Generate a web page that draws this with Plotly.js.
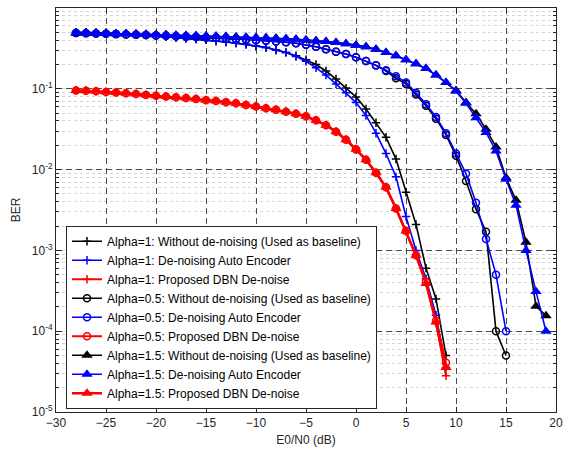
<!DOCTYPE html>
<html>
<head>
<meta charset="utf-8">
<script src="https://cdn.plot.ly/plotly-3.0.1.min.js"></script>
<style>html,body{margin:0;padding:0;background:#fff;}#chart{width:572px;height:453px;}</style>
</head>
<body>
<div id="chart"></div>
<script>
// E0/N0 (dB) sample points
const xA1 = [-28,-27,-26,-25,-24,-23,-22,-21,-20,-19,-18,-17,-16,-15,-14,-13,-12,-11,-10,-9,-8,-7,-6,-5,-4,-3,-2,-1,0,1,2,3,4,5,6,7,8,9];
const xA05 = [-28,-27,-26,-25,-24,-23,-22,-21,-20,-19,-18,-17,-16,-15,-14,-13,-12,-11,-10,-9,-8,-7,-6,-5,-4,-3,-2,-1,0,1,2,3,4,5,6,7,8,9,10,11,12,13,14,15];
const xA15 = [-28,-27,-26,-25,-24,-23,-22,-21,-20,-19,-18,-17,-16,-15,-14,-13,-12,-11,-10,-9,-8,-7,-6,-5,-4,-3,-2,-1,0,1,2,3,4,5,6,7,8,9,10,11,12,13,14,15,16,17,18,19];

// Alpha = 1
const berA1Base = [0.501,0.501,0.495,0.490,0.484,0.479,0.468,0.462,0.452,0.442,0.432,0.422,0.412,0.403,0.389,0.380,0.367,0.355,0.339,0.324,0.302,0.282,0.257,0.229,0.200,0.166,0.132,0.102,0.0794,0.0562,0.0380,0.0251,0.0135,0.00525,0.00209,6.03e-4,2.51e-4,5.0e-5];
const berA1DAE = [0.501,0.501,0.495,0.490,0.484,0.479,0.468,0.462,0.452,0.442,0.432,0.422,0.412,0.403,0.389,0.380,0.367,0.355,0.339,0.324,0.302,0.282,0.251,0.219,0.182,0.148,0.115,0.0891,0.0676,0.0468,0.0282,0.0158,0.00813,0.00263,0.0010,4.47e-4,1.58e-4,3.55e-5];
const berA1DBN = [0.0955,0.0944,0.0933,0.0912,0.0902,0.0881,0.0861,0.0841,0.0822,0.0804,0.0785,0.0767,0.0750,0.0724,0.0708,0.0684,0.0661,0.0631,0.0603,0.0575,0.0550,0.0519,0.0490,0.0457,0.0407,0.0355,0.0295,0.0234,0.0178,0.0132,0.00912,0.00603,0.00331,0.00174,8.71e-4,3.98e-4,1.26e-4,2.8e-5];

// Alpha = 0.5
const berA05Base = [0.490,0.488,0.484,0.479,0.475,0.471,0.468,0.462,0.457,0.452,0.447,0.442,0.437,0.432,0.427,0.422,0.414,0.407,0.400,0.394,0.385,0.376,0.367,0.351,0.331,0.309,0.288,0.269,0.245,0.221,0.195,0.166,0.135,0.115,0.0851,0.0617,0.0427,0.0269,0.0148,0.00724,0.00324,0.00170,1.0e-4,5.0e-5];
const berA05DAE = [0.490,0.488,0.484,0.479,0.475,0.471,0.468,0.462,0.457,0.452,0.447,0.442,0.437,0.432,0.427,0.422,0.414,0.407,0.400,0.394,0.385,0.376,0.367,0.351,0.331,0.309,0.288,0.269,0.245,0.221,0.195,0.170,0.143,0.120,0.0891,0.0646,0.0447,0.0282,0.0158,0.00891,0.00389,0.00138,5.01e-4,1.0e-4];
const berA05DBN = [0.0955,0.0944,0.0933,0.0912,0.0902,0.0881,0.0861,0.0841,0.0822,0.0804,0.0785,0.0767,0.0750,0.0724,0.0708,0.0684,0.0661,0.0631,0.0603,0.0575,0.0550,0.0519,0.0490,0.0457,0.0407,0.0355,0.0295,0.0234,0.0178,0.0132,0.00912,0.00603,0.00331,0.00174,8.71e-4,4.1e-4,1.35e-4,4.07e-5];

// Alpha = 1.5
const berA15Base = [0.490,0.489,0.486,0.484,0.481,0.479,0.475,0.472,0.468,0.465,0.461,0.457,0.454,0.450,0.447,0.443,0.439,0.435,0.431,0.427,0.422,0.417,0.409,0.403,0.394,0.385,0.373,0.361,0.347,0.331,0.309,0.282,0.257,0.229,0.204,0.178,0.148,0.120,0.0955,0.0676,0.0490,0.0316,0.0191,0.00794,0.00417,0.00126,2.04e-4,1.55e-4];
const berA15DAE = [0.490,0.489,0.486,0.484,0.481,0.479,0.475,0.472,0.468,0.465,0.461,0.457,0.454,0.450,0.447,0.443,0.439,0.435,0.431,0.427,0.422,0.417,0.409,0.403,0.394,0.385,0.373,0.361,0.347,0.331,0.309,0.282,0.257,0.229,0.204,0.178,0.148,0.120,0.0933,0.0661,0.0437,0.0288,0.0170,0.00759,0.00363,0.0010,3.09e-4,1.0e-4];
const berA15DBN = [0.0955,0.0944,0.0933,0.0912,0.0902,0.0881,0.0861,0.0841,0.0822,0.0804,0.0785,0.0767,0.0750,0.0724,0.0708,0.0684,0.0661,0.0631,0.0603,0.0575,0.0550,0.0519,0.0490,0.0457,0.0407,0.0355,0.0295,0.0234,0.0178,0.0132,0.00912,0.00603,0.00331,0.00174,8.71e-4,3.9e-4,1.3e-4,3.55e-5];

const names = [
  'Alpha=1: Without de-noising (Used as baseline)',
  'Alpha=1: De-noising Auto Encoder',
  'Alpha=1: Proposed DBN De-noise',
  'Alpha=0.5: Without de-noising (Used as baseline)',
  'Alpha=0.5: De-noising Auto Encoder',
  'Alpha=0.5: Proposed DBN De-noise',
  'Alpha=1.5: Without de-noising (Used as baseline)',
  'Alpha=1.5: De-noising Auto Encoder',
  'Alpha=1.5: Proposed DBN De-noise'
];
const yTickVals = [1e-5,1e-4,1e-3,1e-2,1e-1,1];
const yTickText = ['10<sup>-5</sup>','10<sup>-4</sup>','10<sup>-3</sup>','10<sup>-2</sup>','10<sup>-1</sup>','10<sup>0</sup>'];

const BLACK = '#000000', BLUE = '#0000ff', RED = '#ff0000';
function tr(x, y, name, color, symbol, size, lw) {
  const filled = symbol === 'triangle-up';
  return {
    x: x, y: y, name: name, type: 'scatter', mode: 'lines+markers',
    line: {color: color, width: lw},
    marker: {symbol: symbol, size: size, color: color,
             line: {color: color, width: filled ? 0 : 1.5}}
  };
}
const data = [
  tr(xA1, berA1Base, names[0], BLACK, 'cross-thin-open', 6, 1.6),
  tr(xA1, berA1DAE, names[1], BLUE, 'cross-thin-open', 6, 1.6),
  tr(xA1, berA1DBN, names[2], RED, 'cross-thin-open', 6, 2),
  tr(xA05, berA05Base, names[3], BLACK, 'circle-open', 7, 1.6),
  tr(xA05, berA05DAE, names[4], BLUE, 'circle-open', 7, 1.6),
  tr(xA1, berA05DBN, names[5], RED, 'circle-open', 7, 2),
  tr(xA15, berA15Base, names[6], BLACK, 'triangle-up', 10, 1.6),
  tr(xA15, berA15DAE, names[7], BLUE, 'triangle-up', 10, 1.6),
  tr(xA1, berA15DBN, names[8], RED, 'triangle-up', 10, 2.5)
];

const axFont = {family: 'Arial, Liberation Sans, sans-serif', size: 12, color: '#262626'};
const layout = {
  width: 572, height: 453,
  margin: {l: 56, r: 16, t: 8, b: 41},
  paper_bgcolor: '#ffffff', plot_bgcolor: '#ffffff',
  showlegend: true,
  font: axFont,
  xaxis: {
    range: [-30, 20], dtick: 5, tick0: -30,
    showline: true, linecolor: '#262626', linewidth: 1, mirror: 'allticks',
    ticks: 'inside', ticklen: 5, tickcolor: '#262626',
    showgrid: true, gridcolor: '#4a4a4a', gridwidth: 1, griddash: '6px,4px',
    zeroline: false,
    tickfont: axFont,
    title: {text: 'E0/N0 (dB)', font: axFont, standoff: 6}
  },
  yaxis: {
    type: 'log', range: [-5, 0],
    tickvals: yTickVals, ticktext: yTickText,
    showline: true, linecolor: '#262626', linewidth: 1, mirror: 'allticks',
    ticks: 'inside', ticklen: 5, tickcolor: '#262626',
    showgrid: true, gridcolor: '#4a4a4a', gridwidth: 1, griddash: '6px,4px',
    zeroline: false,
    tickfont: axFont,
    minor: {dtick: 'D1', showgrid: true, gridcolor: '#d4d4d4', gridwidth: 1, griddash: 'dot', ticks: 'inside', ticklen: 3, tickcolor: '#262626'},
    title: {text: 'BER', font: axFont, standoff: 8}
  },
  legend: {
    x: 0.02, y: 0.008, xanchor: 'left', yanchor: 'bottom',
    bgcolor: '#ffffff', bordercolor: '#262626', borderwidth: 1,
    font: {family: 'Arial, Liberation Sans, sans-serif', size: 12, color: '#000000'},
    itemwidth: 30, tracegroupgap: 0
  }
};
Plotly.newPlot('chart', data, layout, {displayModeBar: false, staticPlot: true});
</script>
</body>
</html>
